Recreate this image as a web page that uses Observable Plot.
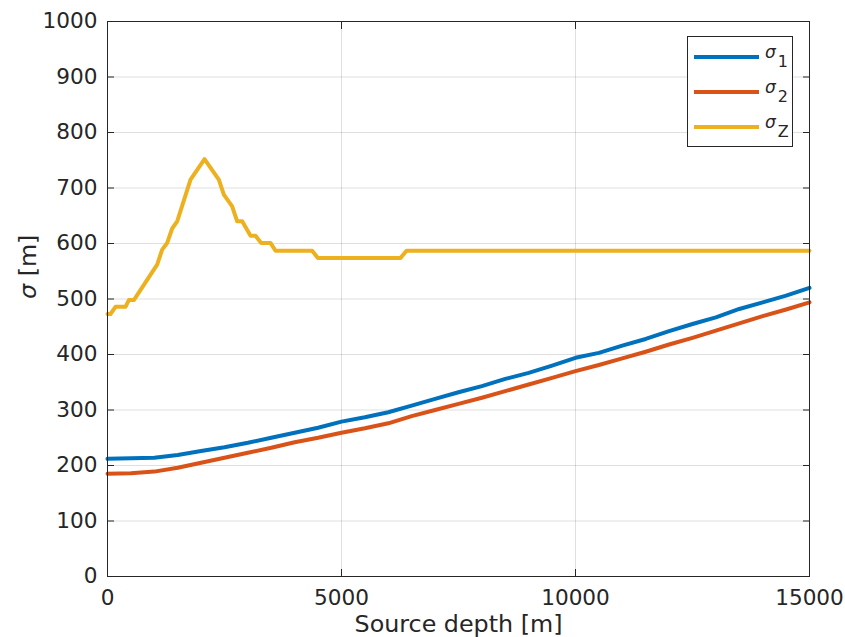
<!DOCTYPE html>
<html>
<head>
<meta charset="utf-8">
<script src="https://cdn.jsdelivr.net/npm/d3@7"></script>
<script src="https://cdn.jsdelivr.net/npm/@observablehq/plot@0.6"></script>
<style>
  body { margin: 0; background: #fff; }
  #wrap { position: relative; width: 845px; height: 637px; font-family: "DejaVu Sans", sans-serif; }
  #legend { position: absolute; left: 687px; top: 36px; width: 106px; height: 111px; border: 1px solid #262626; background: #fff; box-sizing: border-box; }
  .entry { position: absolute; left: 6px; height: 30px; width: 100px; }
  .entry .ln { position: absolute; left: 0; top: 12px; width: 65px; height: 4px; }
  .entry .tx { position: absolute; left: 71px; top: 0px; font-size: 17px; line-height: 18px; color: #262626; white-space: nowrap; }
  .entry .tx i { font-style: italic; }
  .entry .tx sub { font-size: 16px; position: relative; top: 9px; vertical-align: baseline; margin-left: 2px; }
</style>
</head>
<body>
<div id="wrap"></div>
<script>
// Source depth (m) for sigma_1 and sigma_2
const depth = [0, 500, 1000, 1500, 2000, 2500, 3000, 3500, 4000, 4500, 5000, 5500, 6000, 6500, 7000, 7500, 8000, 8500, 9000, 9500, 10000, 10500, 11000, 11500, 12000, 12500, 13000, 13500, 14000, 14500, 15000];
const sigma1 = [212, 213, 214, 219, 226, 233, 241, 250, 259, 268, 279, 287, 296, 308, 320, 332, 343, 356, 367, 380, 394, 403, 416, 428, 442, 455, 467, 482, 494, 506, 520];
const sigma2 = [185, 186, 189, 196, 205, 214, 223, 232, 242, 250, 259, 267, 276, 289, 300, 311, 322, 334, 346, 358, 370, 381, 393, 405, 418, 430, 443, 456, 469, 481, 494];
// sigma_Z (stepwise)
const depthZ = [0, 64, 171, 385, 456, 563, 1061, 1168, 1275, 1382, 1489, 1774, 2073, 2379, 2486, 2664, 2771, 2878, 3056, 3162, 3284, 3483, 3590, 4373, 4494, 6261, 6389, 15000];
const sigmaZ = [473, 473, 486, 486, 498, 498, 562, 589, 601, 627, 640, 715, 752, 715, 688, 667, 640, 640, 614, 614, 601, 601, 587, 587, 574, 574, 587, 587];

const xTicks = [0, 5000, 10000, 15000];
const yTicks = [0, 100, 200, 300, 400, 500, 600, 700, 800, 900, 1000];
const seriesSym = ["σ", "σ", "σ"];
const seriesSub = ["1", "2", "Z"];
const colors = ["#0072BD", "#D95319", "#EDB120"];

const s1 = depth.map((d, i) => ({x: d, y: sigma1[i]}));
const s2 = depth.map((d, i) => ({x: d, y: sigma2[i]}));
const sz = depthZ.map((d, i) => ({x: d, y: sigmaZ[i]}));

const ink = "#262626";
const fs = 21.6;

const chart = Plot.plot({
  width: 845,
  height: 637,
  marginLeft: 107,
  marginRight: 36,
  marginTop: 21,
  marginBottom: 61,
  style: {fontFamily: "DejaVu Sans, sans-serif", color: ink, background: "#fff"},
  x: {domain: [0, 15000]},
  y: {domain: [0, 1000]},
  marks: [
    Plot.gridX(xTicks, {stroke: ink, strokeOpacity: 0.15}),
    Plot.gridY(yTicks, {stroke: ink, strokeOpacity: 0.15}),
    Plot.line(s1, {x: "x", y: "y", stroke: colors[0], strokeWidth: 4, strokeLinejoin: "round"}),
    Plot.line(s2, {x: "x", y: "y", stroke: colors[1], strokeWidth: 4, strokeLinejoin: "round"}),
    Plot.line(sz, {x: "x", y: "y", stroke: colors[2], strokeWidth: 4, strokeLinejoin: "round"}),
    Plot.frame({stroke: ink, strokeWidth: 1}),
    // inward tick marks
    Plot.axisX(xTicks, {anchor: "bottom", tickSize: 7, dy: -7, text: null, label: null, stroke: ink}),
    Plot.axisX(xTicks, {anchor: "top", tickSize: 7, dy: 7, text: null, label: null, stroke: ink}),
    Plot.axisY(yTicks, {anchor: "left", tickSize: 7, dx: 7, text: null, label: null, stroke: ink}),
    Plot.axisY(yTicks, {anchor: "right", tickSize: 7, dx: -7, text: null, label: null, stroke: ink}),
    // tick labels
    Plot.axisX(xTicks, {anchor: "bottom", tickSize: 0, tickPadding: 13, tickFormat: d => String(d), label: null, fontSize: fs, fill: ink}),
    Plot.axisY(yTicks, {anchor: "left", tickSize: 0, tickPadding: 10, tickFormat: d => String(d), label: null, fontSize: fs, fill: ink}),
    // axis labels
    Plot.text(["Source depth [m]"], {frameAnchor: "bottom", dy: 48, text: d => d, fontSize: 23.8, fill: ink, lineAnchor: "middle"}),
    Plot.text(["σ [m]"], {frameAnchor: "left", dx: -79, text: d => d, fontSize: 23.8, fill: ink, rotate: -90, lineAnchor: "middle", className: "ylab"})
  ]
});

// italic sigma in the y label
d3.select(chart).selectAll("g.ylab text").each(function() {
  const t = d3.select(this);
  t.text(null);
  t.append("tspan").attr("font-style", "italic").text("σ");
  t.append("tspan").text(" [m]");
});

const wrap = document.getElementById("wrap");
wrap.appendChild(chart);

const legend = document.createElement("div");
legend.id = "legend";
seriesSym.forEach((sym, i) => {
  const e = document.createElement("div");
  e.className = "entry";
  e.style.top = (6 + i * 35) + "px";
  const ln = document.createElement("div");
  ln.className = "ln";
  ln.style.background = colors[i];
  const tx = document.createElement("div");
  tx.className = "tx";
  tx.innerHTML = "<i>" + sym + "</i><sub>" + seriesSub[i] + "</sub>";
  e.appendChild(ln);
  e.appendChild(tx);
  legend.appendChild(e);
});
wrap.appendChild(legend);
</script>
</body>
</html>
